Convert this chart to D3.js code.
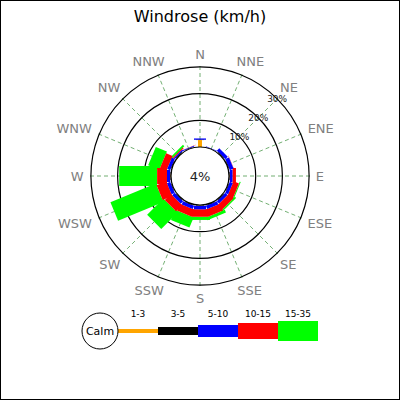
<!DOCTYPE html>
<html>
<head>
<meta charset="utf-8">
<script src="https://cdnjs.cloudflare.com/ajax/libs/d3/7.8.5/d3.min.js"></script>
<style>
  body { margin: 0; background: #fff; }
  svg { display: block; font-family: 'DejaVu Sans', sans-serif; }
</style>
</head>
<body>
<div class="vis"></div>
<script>
// wind directions, clockwise from north
const directions = ['N', 'NNE', 'NE', 'ENE', 'E', 'ESE', 'SE', 'SSE',
  'S', 'SSW', 'SW', 'WSW', 'W', 'WNW', 'NW', 'NNW']
const speedClasses = ['1-3', '3-5', '5-10', '10-15', '15-35']
const classColors = ['#ffa500', '#000000', '#0000ff', '#ff0000', '#00ff00']

// frequency (%) per direction for each speed class
const pct1to3 = [2.6, 0.1, 0.1, 0.1, 0.1, 0.1, 0.1, 0.1, 0.1, 0.1, 0.1, 0.1, 0.1, 0.1, 0.1, 0.1]
const pct3to5 = [0.1, 0, 0.2, 0.2, 0.2, 0.2, 0.2, 0.2, 0.2, 0.2, 0.2, 0.2, 0.2, 0.2, 0.2, 0.1]
const pct5to10 = [0.5, 0.2, 1.3, 1.5, 1.0, 1.2, 1.2, 1.3, 1.3, 1.3, 1.3, 1.3, 1.2, 1.2, 0.5, 0.3]
const pct10to15 = [0, 0, 0, 0.1, 1.3, 2.2, 2.4, 2.8, 2.8, 2.8, 3.2, 3.9, 3.7, 2.6, 0.4, 0.1]
const pct15to35 = [0, 0, 0, 0, 0, 0.4, 0.6, 1.1, 1.2, 4.1, 8.6, 18.4, 14.2, 4.5, 0.7, 0]
const seriesValues = [pct1to3, pct3to5, pct5to10, pct10to15, pct15to35]

const calmPct = 4
const ringTicks = [10, 20, 30]
const title = 'Windrose (km/h)'

const barWidths = [4, 8, 12, 16, 20]

const width = 400
const height = 400
const cx = 200
const cy = 176

const svg = d3.select('.vis')
  .append('svg')
  .attr('width', width)
  .attr('height', height)

svg.append('rect')
  .attr('x', 0.5).attr('y', 0.5)
  .attr('width', width - 1).attr('height', height - 1)
  .attr('fill', '#fff')
  .attr('stroke', '#000')

svg.append('text')
  .attr('x', width / 2)
  .attr('y', 22)
  .attr('text-anchor', 'middle')
  .attr('font-size', 16)
  .attr('fill', '#000')
  .text(title)

// scales
const r = d3.scaleLinear().domain([0, 30]).range([29, 109.1])
const angle = d3.scalePoint().domain(directions).range([0, 360 - 360 / directions.length])
const rad = a => (a - 90) * Math.PI / 180

const rose = svg.append('g').attr('transform', `translate(${cx},${cy})`)

// spokes
rose.append('g')
  .selectAll('line')
  .data(directions)
  .join('line')
  .attr('x1', d => r(0) * Math.cos(rad(angle(d))))
  .attr('y1', d => r(0) * Math.sin(rad(angle(d))))
  .attr('x2', d => 111 * Math.cos(rad(angle(d))))
  .attr('y2', d => 111 * Math.sin(rad(angle(d))))
  .attr('stroke', '#4f9a4f')
  .attr('stroke-width', 0.8)
  .attr('stroke-dasharray', '4,3')

// rings
rose.append('g')
  .selectAll('circle')
  .data(ringTicks)
  .join('circle')
  .attr('r', d => r(d))
  .attr('fill', 'none')
  .attr('stroke', '#000')
  .attr('stroke-width', 1.2)

// direction labels, pushed out sideways by their own width
rose.append('g')
  .selectAll('text')
  .data(directions)
  .join('text')
  .attr('text-anchor', 'middle')
  .attr('dominant-baseline', 'central')
  .attr('font-size', 13)
  .attr('fill', '#808080')
  .text(d => d)
  .each(function (d) {
    const w = this.getComputedTextLength()
    const a = rad(angle(d))
    d3.select(this)
      .attr('x', (115 + 0.6 * w) * Math.cos(a))
      .attr('y', (122 + 3 * Math.abs(Math.sin(2 * a))) * Math.sin(a))
  })

// stacked segments, drawn from the outer class inward
for (let i = speedClasses.length - 1; i >= 0; i--) {
  rose.append('g')
    .selectAll('rect')
    .data(directions)
    .join('rect')
    .attr('transform', d => `rotate(${angle(d)})`)
    .attr('x', -barWidths[i] / 2)
    .attr('y', (d, j) => -r(d3.sum(seriesValues.slice(0, i + 1), v => v[j])))
    .attr('width', barWidths[i])
    .attr('height', (d, j) => r(seriesValues[i][j]) - r(0))
    .attr('fill', classColors[i])
}

// ring labels along NE
rose.append('g')
  .selectAll('text')
  .data(ringTicks)
  .join('text')
  .attr('x', d => r(d) * Math.cos(rad(45)))
  .attr('y', d => r(d) * Math.sin(rad(45)))
  .attr('text-anchor', 'middle')
  .attr('dominant-baseline', 'central')
  .attr('font-size', 9)
  .attr('fill', '#222')
  .text(d => `${d}%`)

// calm circle
rose.append('circle')
  .attr('r', r(0))
  .attr('fill', '#fff')
  .attr('stroke', '#000')
  .attr('stroke-width', 1.2)

rose.append('text')
  .attr('text-anchor', 'middle')
  .attr('dominant-baseline', 'central')
  .attr('font-size', 13)
  .attr('fill', '#222')
  .text(`${calmPct}%`)

// legend
const legend = svg.append('g').attr('transform', 'translate(100,331)')
const lx = d3.scaleBand().domain(speedClasses).range([18, 218])

legend.selectAll('rect')
  .data(speedClasses)
  .join('rect')
  .attr('x', d => lx(d))
  .attr('y', (d, i) => -barWidths[i] / 2)
  .attr('width', lx.bandwidth())
  .attr('height', (d, i) => barWidths[i])
  .attr('fill', (d, i) => classColors[i])

legend.selectAll('text.cls')
  .data(speedClasses)
  .join('text')
  .attr('class', 'cls')
  .attr('x', d => lx(d) + lx.bandwidth() / 2)
  .attr('y', -17)
  .attr('text-anchor', 'middle')
  .attr('dominant-baseline', 'central')
  .attr('font-size', 9)
  .attr('fill', '#000')
  .text(d => d)

legend.append('circle')
  .attr('r', 18)
  .attr('fill', '#fff')
  .attr('stroke', '#000')

legend.append('text')
  .attr('text-anchor', 'middle')
  .attr('dominant-baseline', 'central')
  .attr('font-size', 11)
  .attr('fill', '#000')
  .text('Calm')
</script>
</body>
</html>
